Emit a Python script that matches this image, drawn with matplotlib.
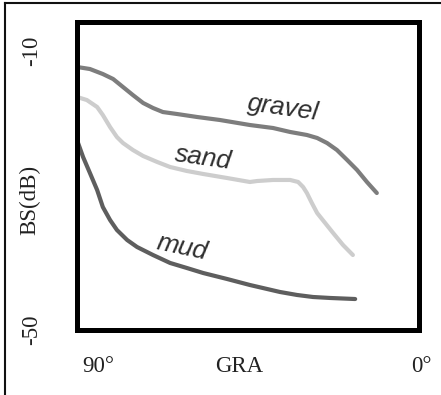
import matplotlib.pyplot as plt
from matplotlib.lines import Line2D

# Backscatter (dB) versus grazing angle (deg) for three seabed types
gravel_gra = [90.0, 86.6, 83.2, 80.5, 77.9, 75.3, 72.6, 70.0, 67.4, 63.7, 58.4, 52.4,
              44.5, 38.4, 33.9, 29.5, 26.8, 24.2, 21.6, 18.9, 16.3, 13.7, 11.1]
gravel_bs = [-12.29, -12.58, -13.30, -14.01, -15.16, -16.31, -17.45, -18.17, -18.75,
             -19.03, -19.46, -19.89, -20.61, -21.04, -21.61, -22.04, -22.47, -23.19,
             -24.19, -25.63, -27.06, -28.78, -30.36]

sand_gra = [90.0, 87.4, 84.7, 83.2, 81.3, 79.5, 77.9, 75.3, 72.6, 68.9, 65.5, 61.1,
            56.8, 50.5, 44.5, 42.6, 38.4, 33.9, 31.8, 30.5, 29.5, 28.2, 26.8, 24.7,
            22.6, 20.0, 17.4]
sand_bs = [-16.59, -17.03, -18.03, -19.18, -20.90, -22.33, -23.19, -24.19, -25.05,
           -25.91, -26.63, -27.20, -27.63, -28.21, -28.78, -28.64, -28.49, -28.49,
           -28.78, -29.50, -30.36, -31.79, -33.23, -34.66, -36.09, -37.81, -39.25]

mud_gra = [90.0, 88.4, 86.6, 84.7, 83.2, 81.3, 79.5, 76.8, 74.2, 70.0, 65.5, 61.1,
           56.8, 50.5, 44.5, 41.1, 36.6, 32.1, 27.9, 23.4, 16.8]
mud_bs = [-22.76, -25.20, -27.49, -29.93, -32.37, -34.23, -35.66, -37.10, -38.10,
          -39.25, -40.39, -41.11, -41.83, -42.69, -43.55, -43.98, -44.55, -44.98,
          -45.27, -45.41, -45.56]

y_ticks = [-10, -50]
y_tick_labels = ["-10", "-50"]

fig = plt.figure(figsize=(4.41, 3.95), dpi=100)
ax = fig.add_axes([0.1746, 0.1646, 0.7755, 0.7797])

serif = "Liberation Serif"
sans = "Liberation Sans"

ax.plot(gravel_gra, gravel_bs, color="#7d7d7d", lw=3.0, solid_capstyle="round",
        solid_joinstyle="round")
ax.plot(sand_gra, sand_bs, color="#cdcdcd", lw=3.0, solid_capstyle="round",
        solid_joinstyle="round")
ax.plot(mud_gra, mud_bs, color="#5e5e5e", lw=3.0, solid_capstyle="round",
        solid_joinstyle="round")

ax.set_xlim(90, 0)
ax.set_ylim(-50, -5.84)

for s in ax.spines.values():
    s.set_linewidth(3.6)
    s.set_color("black")

ax.set_xticks([])
ax.set_yticks(y_ticks)
ax.set_yticklabels(y_tick_labels, rotation=90, va="center", family=serif,
                   fontsize=16.5, color="#222222")
ax.tick_params(axis="y", length=0, pad=25)

# curve names
ax.text(35.8, -18.2, "gravel", style="italic", family=sans, fontsize=19,
        color="#2e2e2e", rotation=-8, ha="center", va="center")
ax.text(56.8, -25.3, "sand", style="italic", family=sans, fontsize=19,
        color="#2e2e2e", rotation=-8, ha="center", va="center")
ax.text(62.4, -38.1, "mud", style="italic", family=sans, fontsize=19,
        color="#2e2e2e", rotation=-12, ha="center", va="center")

# angle labels under the frame
ax.text(0.061, -0.118, "90°", transform=ax.transAxes, family=serif,
        fontsize=16.5, color="#222222", ha="center", va="center")
ax.text(0.474, -0.118, "GRA", transform=ax.transAxes, family=serif,
        fontsize=16.5, color="#222222", ha="center", va="center")
ax.text(1.006, -0.118, "0°", transform=ax.transAxes, family=serif,
        fontsize=16.5, color="#222222", ha="center", va="center")

fig.text(30 / 441, 1 - 200 / 395, "BS(dB)", rotation=90, family=serif,
         fontsize=16.5, color="#222222", ha="center", va="center")

# thin outer border on top and left
fig.add_artist(Line2D([5 / 441, 5 / 441], [0, 1 - 3 / 395], color="#111111", lw=1.5))
fig.add_artist(Line2D([5 / 441, 1], [1 - 3 / 395, 1 - 3 / 395], color="#111111", lw=1.5))

fig.savefig("out.png", dpi=100)
